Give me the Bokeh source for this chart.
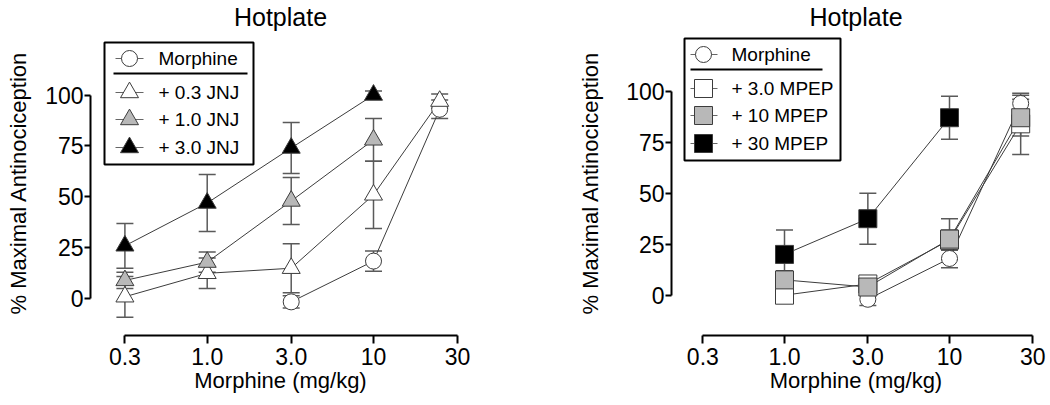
import math
from bokeh.plotting import figure
from bokeh.layouts import row
from bokeh.models import (ColumnDataSource, Whisker, TeeHead, FixedTicker,
                          CustomJSTickFormatter, Range1d)
from bokeh.core.properties import value
from bokeh.embed import file_html
from bokeh.resources import INLINE

FONT = "Liberation Sans"

# ---------------- data ----------------
tick_values = [0.32, 1.0, 3.2, 10.0, 32.0]
tick_labels = ["0.3", "1.0", "3.0", "10", "30"]
y_ticks = [0, 25, 50, 75, 100]
title_text = "Hotplate"
x_label = "Morphine (mg/kg)"
y_label = "% Maximal Antinociception"

# Left panel (JNJ)
morphine_L_dose = [3.2, 10, 25]
morphine_L = [-1.5, 18.5, 93]
morphine_L_sem = [3, 5, 4.5]
jnj03_dose = [0.32, 1, 3.2, 10, 25]
jnj03 = [1, 12.5, 15, 51, 97]
jnj03_sem = [10, 7.5, 12, 16.5, 3.5]
jnj10_dose = [0.32, 1, 3.2, 10]
jnj10 = [9, 18, 48, 78]
jnj10_sem = [4, 5, 11.5, 10.5]
jnj30_dose = [0.32, 1, 3.2, 10]
jnj30 = [26, 47, 74, 100]
jnj30_sem = [11, 14, 12.5, 2]
legend_L = ["Morphine", "+ 0.3 JNJ", "+ 1.0 JNJ", "+ 3.0 JNJ"]

# Right panel (MPEP)
morphine_R_dose = [3.2, 10, 27]
morphine_R = [-2, 18, 94]
morphine_R_sem = [3, 4.5, 4]
mpep3_dose = [1, 3.2, 10, 27]
mpep3 = [0, 5.5, 27, 84]
mpep3_sem = [3, 3, 5, 15]
mpep10_dose = [1, 3.2, 10, 27]
mpep10 = [7.5, 4, 27.5, 87]
mpep10_sem = [4.5, 3, 10, 9]
mpep30_dose = [1, 3.2, 10]
mpep30 = [20, 37.5, 87]
mpep30_sem = [12, 12.5, 10.5]
legend_R = ["Morphine", "+ 3.0 MPEP", "+ 10 MPEP", "+ 30 MPEP"]

# ---------------- styles ----------------
WHITE, GRAY, BLACK = "#ffffff", "#b8b8b8", "#000000"
EDGE = "#3c3c3c"
LINE = "#3c3c3c"
ERR = "#5a5a5a"

# shared frame rows (plots in a row share frame top/bottom)
FRAME_TOP = 30
FRAME_BOTTOM = 335
CANVAS_H = 405


def make_panel(origin, frame, calib, series, legend_labels, legend_geom):
    ox, oy = origin
    fL, fR, cw = frame
    fT, fB, ch = FRAME_TOP, FRAME_BOTTOM, CANVAS_H
    x1px, ppd, y0px, ppu = calib
    xs = lambda px: 10 ** ((px - x1px) / ppd)
    ys = lambda py: (y0px - py) / ppu

    p = figure(width=cw, height=ch, x_axis_type="log",
               x_range=Range1d(xs(fL), xs(fR)), y_range=Range1d(ys(fB), ys(fT)),
               output_backend="svg", toolbar_location=None,
               min_border_left=fL - ox, min_border_right=ox + cw - fR,
               min_border_top=fT - oy, min_border_bottom=oy + ch - fB)
    p.outline_line_color = None
    p.xgrid.visible = False
    p.ygrid.visible = False
    p.background_fill_color = "white"
    p.border_fill_color = "white"

    p.title.text = title_text
    p.title.align = "center"
    p.title.text_font = FONT
    p.title.text_font_size = "25px"
    p.title.text_font_style = "normal"
    p.title.text_color = "black"
    p.title.standoff = 0
    p.title.offset = 0

    for ax in (p.xaxis[0], p.yaxis[0]):
        ax.axis_line_width = 2
        ax.axis_line_color = "black"
        ax.major_tick_line_width = 2
        ax.major_tick_line_color = "black"
        ax.major_tick_in = 0
        ax.major_tick_out = 7
        ax.minor_tick_line_color = None
        ax.major_label_text_font = FONT
        ax.major_label_text_font_size = "23px"
        ax.major_label_text_color = "black"
        ax.axis_label_text_font = FONT
        ax.axis_label_text_font_size = "22px"
        ax.axis_label_text_font_style = "normal"
        ax.axis_label_text_color = "black"

    xa = p.xaxis[0]
    xa.ticker = FixedTicker(ticks=tick_values, minor_ticks=[])
    xa.bounds = (tick_values[0], tick_values[-1])
    xa.formatter = CustomJSTickFormatter(
        args=dict(vals=tick_values, labs=tick_labels),
        code="""
        const i = vals.findIndex(v => Math.abs(Math.log10(v) - Math.log10(tick)) < 1e-6);
        return i >= 0 ? labs[i] : "";
        """)
    xa.axis_label = x_label
    xa.major_tick_out = 8
    xa.major_label_standoff = 4
    xa.axis_label_standoff = 0

    ya = p.yaxis[0]
    ya.ticker = FixedTicker(ticks=y_ticks, minor_ticks=[])
    ya.bounds = (y_ticks[0], y_ticks[-1])
    ya.axis_label = y_label
    ya.major_label_standoff = 1
    ya.major_tick_out = 6

    # data series
    for (dose, vals, sem, marker, fill, size) in series:
        src = ColumnDataSource(dict(x=dose, y=vals,
                                    up=[v + s for v, s in zip(vals, sem)],
                                    lo=[v - s for v, s in zip(vals, sem)]))
        w = Whisker(source=src, base="x", upper="up", lower="lo", dimension="height",
                    line_color=ERR, line_width=1.5,
                    upper_head=TeeHead(size=17, line_color=ERR, line_width=1.5),
                    lower_head=TeeHead(size=17, line_color=ERR, line_width=1.5))
        p.add_layout(w)
        p.line("x", "y", source=src, line_color=LINE, line_width=1)
    for (dose, vals, sem, marker, fill, size) in series:
        src = ColumnDataSource(dict(x=dose, y=vals))
        p.scatter("x", "y", source=src, marker=marker, size=size,
                  fill_color=fill, line_color=EDGE, line_width=1)

    # legend box (manual, GraphPad style with separator)
    bL, bR, bT, bB, rows_y, mx, lx0, lx1, tx, sepx0, sepx1, sepy = legend_geom
    p.quad(left=[xs(bL)], right=[xs(bR)], top=[ys(bT)], bottom=[ys(bB)],
           fill_color="white", line_color="black", line_width=2)
    p.line([xs(sepx0), xs(sepx1)], [ys(sepy), ys(sepy)], line_color="black", line_width=2)
    for (ry, lab, (dose, vals, sem, marker, fill, size)) in zip(rows_y, legend_labels, series):
        p.line([xs(lx0), xs(lx1)], [ys(ry), ys(ry)], line_color="#666666", line_width=1)
        p.scatter([xs(mx)], [ys(ry)], marker=marker, size=size,
                  fill_color=fill, line_color=EDGE, line_width=1)
        p.text([xs(tx)], [ys(ry)], text=[lab], text_font=value(FONT),
               text_font_size="19px", text_baseline="middle", text_align="left",
               text_color="black")
    return p


series_L = [
    (morphine_L_dose, morphine_L, morphine_L_sem, "circle", WHITE, 16),
    (jnj03_dose, jnj03, jnj03_sem, "triangle", WHITE, 18),
    (jnj10_dose, jnj10, jnj10_sem, "triangle", GRAY, 18),
    (jnj30_dose, jnj30, jnj30_sem, "triangle", BLACK, 18),
]
series_R = [
    (morphine_R_dose, morphine_R, morphine_R_sem, "circle", WHITE, 16),
    (mpep3_dose, mpep3, mpep3_sem, "square", WHITE, 18),
    (mpep10_dose, mpep10, mpep10_sem, "square", GRAY, 18),
    (mpep30_dose, mpep30, mpep30_sem, "square", BLACK, 18),
]

pL = make_panel(origin=(0, 0), frame=(90, 470, 520),
                calib=(206.7, 166.3, 298.3, 2.038), series=series_L,
                legend_labels=legend_L,
                legend_geom=(104, 253, 42, 164, [58, 92, 119, 147], 129, 115, 143, 158,
                             113, 247, 73))
pL.yaxis[0].axis_label_standoff = 11

pR = make_panel(origin=(520, 0), frame=(671, 1040, 530),
                calib=(784, 165, 294.7, 2.04), series=series_R,
                legend_labels=legend_R,
                legend_geom=(684, 840, 38, 160, [54, 88, 115, 143], 703, 690, 717, 731,
                             690, 822, 69))
pR.yaxis[0].axis_label_standoff = 20

layout = row(pL, pR)
open("out.html", "w").write(file_html(layout, INLINE))
